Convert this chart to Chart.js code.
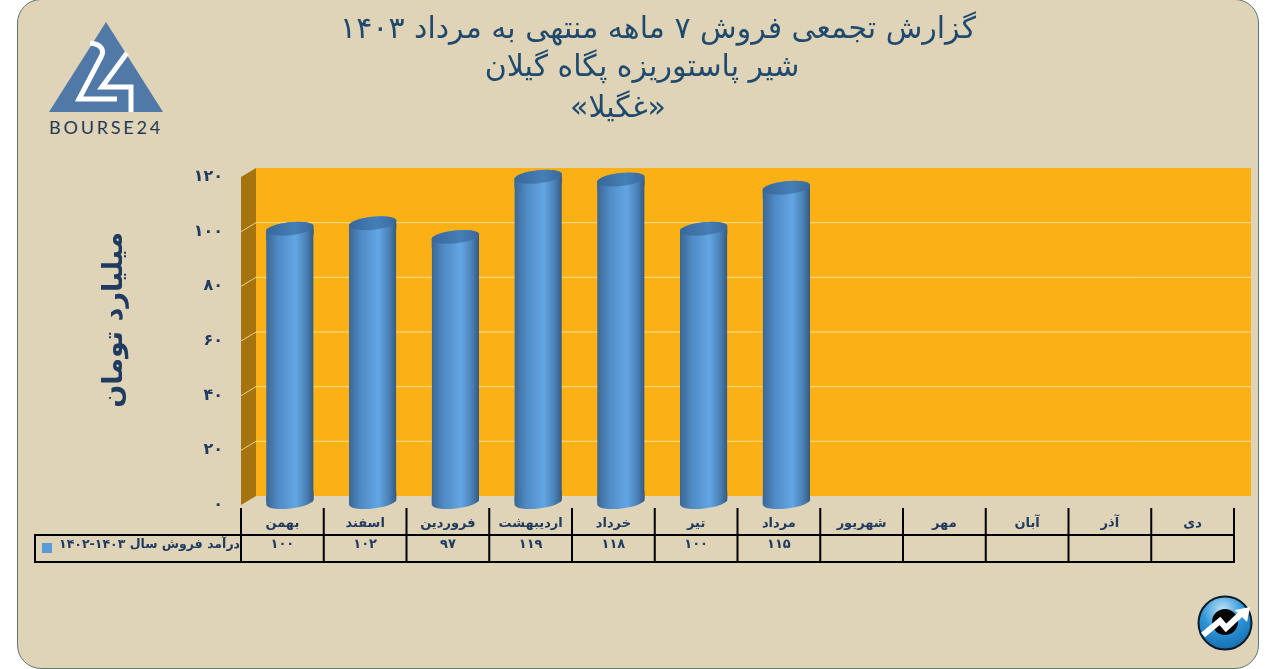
<!DOCTYPE html>
<html lang="fa">
<head>
<meta charset="utf-8">
<title>گزارش فروش غگیلا</title>
<script src="https://cdn.jsdelivr.net/npm/chart.js@4"></script>
<style>
    html, body { margin: 0; padding: 0; background: #fff; overflow: hidden; }
    #panel {
        position: absolute; left: 17px; top: -1px; width: 1240px; height: 668px;
        background: #dfd3b8; border: 1px solid #5d7a72; border-radius: 24px;
    }
    #chart { position: absolute; left: 0; top: 0; }
    svg { position: absolute; left: 0; top: 0; }
</style>
</head>
<body>
<div id="panel"></div>
<svg width="1271" height="669">
    <!-- Logo -->
    <polygon points="106,22 49,112 163,112" fill="#5079a8"/>
    <path d="M90,43 C101,44 105,50 101,57 L79,99 L117,99" fill="none" stroke="#fff" stroke-width="5"/>
    <path d="M127,53 L102,87 L131,87 L131,112" fill="none" stroke="#fff" stroke-width="5"/>
    <text x="106" y="134" text-anchor="middle" font-family="Lato" font-size="18" letter-spacing="2.8" fill="#1f3a55">BOURSE24</text>
    <!-- Badge -->
    <defs>
        <radialGradient id="badge" cx="0.45" cy="0.25" r="0.85">
            <stop offset="0" stop-color="#bfe4f8"/>
            <stop offset="0.45" stop-color="#2f96d8"/>
            <stop offset="1" stop-color="#0f63a8"/>
        </radialGradient>
    </defs>
    <circle cx="1225" cy="623" r="26.5" fill="url(#badge)" stroke="#0b1a26" stroke-width="2"/>
    <circle cx="1225" cy="622" r="13" fill="#050505"/>
    <path d="M1203,635 L1220,621 L1226,628 L1242,613" fill="none" stroke="#fff" stroke-width="6"/>
    <polygon points="1250,607 1247,622 1235,610" fill="#fff"/>
</svg>
<canvas id="chart" width="1271" height="669" dir="rtl"></canvas>

<script>
const months = ['بهمن', 'اسفند', 'فروردین', 'اردیبهشت', 'خرداد', 'تیر', 'مرداد', 'شهریور', 'مهر', 'آبان', 'آذر', 'دی'];
const salesValues = [100, 102, 97, 119, 118, 100, 115, null, null, null, null, null];
const seriesName = 'درآمد فروش سال ۱۴۰۳-۱۴۰۲';
const titleLines = [
    { text: 'گزارش تجمعی فروش ۷ ماهه منتهی به مرداد ۱۴۰۳', x: 658, y: 30, size: 30 },
    { text: 'شیر پاستوریزه پگاه گیلان', x: 642, y: 68, size: 30 },
    { text: '«غگیلا»', x: 618, y: 109, size: 30 }
];
const axisTitle = 'میلیارد تومان';

const navy = '#1f3b60';
const depthX = 15, depthY = 8;       // depth of the fake 3D box
const barLift = 3;                   // bars stand a little behind the front edge
const lidRadius = 6.5;
const tilt = -0.11;
const fontName = '"DejaVu Sans"';

function toPersian(v) {
    return String(v).replace(/\d/g, d => '۰۱۲۳۴۵۶۷۸۹'[d]);
}

function cylinderPath(ctx, cx, top, base, rx) {
    const c = Math.cos(tilt), s = Math.sin(tilt);
    ctx.moveTo(cx - rx * c, top - rx * s);
    ctx.ellipse(cx, top, rx, lidRadius, tilt, Math.PI, Math.PI * 2);
    ctx.lineTo(cx + rx * c, base + rx * s);
    ctx.ellipse(cx, base, rx, lidRadius, tilt, 0, Math.PI);
    ctx.closePath();
}

function bodyGradient(ctx, px, half) {
    const g = ctx.createLinearGradient(px - half, 0, px + half, 0);
    g.addColorStop(0, '#3a6794');
    g.addColorStop(0.25, '#4f8ac4');
    g.addColorStop(0.62, '#63a6e4');
    g.addColorStop(0.85, '#4a80b6');
    g.addColorStop(1, '#33597f');
    return g;
}

// Walls, gridlines and the axis title go behind the bars
const boxPlugin = {
    id: 'box',
    beforeDatasetsDraw(chart) {
        const { ctx, chartArea: a, scales: { y } } = chart;
        ctx.save();
        ctx.fillStyle = '#fbb116';
        ctx.fillRect(a.left + depthX, a.top - depthY - 1, 1251 - a.left - depthX, a.bottom - a.top);
        ctx.fillStyle = '#a6740e';
        ctx.beginPath();
        ctx.moveTo(a.left, a.top);
        ctx.lineTo(a.left + depthX, a.top - depthY - 1);
        ctx.lineTo(a.left + depthX, a.bottom - depthY - 1);
        ctx.lineTo(a.left, a.bottom);
        ctx.closePath();
        ctx.fill();

        ctx.strokeStyle = 'rgba(255, 236, 180, 0.75)';
        ctx.lineWidth = 1;
        y.ticks.forEach(t => {
            if (t.value === 0 || t.value === 120) return;
            const py = y.getPixelForValue(t.value);
            ctx.beginPath();
            ctx.moveTo(a.left, py);
            ctx.lineTo(a.left + depthX, py - depthY - 1);
            ctx.lineTo(1251, py - depthY - 1);
            ctx.stroke();
        });
        ctx.restore();
    },
    // Bars are moved into the box and clipped to a cylinder outline
    beforeDatasetDraw(chart, args) {
        const { ctx } = chart;
        ctx.save();
        ctx.translate(depthX / 2, -barLift);
        ctx.beginPath();
        args.meta.data.forEach((bar, i) => {
            if (salesValues[i] == null) return;
            cylinderPath(ctx, bar.x, bar.y, bar.base, bar.width / 2);
        });
        ctx.clip();
    },
    afterDatasetDraw(chart, args) {
        const { ctx } = chart;
        ctx.restore();
        ctx.save();
        ctx.translate(depthX / 2, -barLift);
        args.meta.data.forEach((bar, i) => {
            if (salesValues[i] == null) return;
            const rx = bar.width / 2;
            // round off both ends of the native bar
            ctx.fillStyle = bodyGradient(ctx, bar.x, rx);
            ctx.beginPath();
            cylinderPath(ctx, bar.x, bar.base - 8, bar.base, rx);
            cylinderPath(ctx, bar.x, bar.y, bar.y + 8, rx);
            ctx.fill();

            const lid = ctx.createLinearGradient(bar.x - rx, 0, bar.x + rx, 0);
            lid.addColorStop(0, '#38679a');
            lid.addColorStop(0.6, '#457fb6');
            lid.addColorStop(1, '#38689a');
            ctx.fillStyle = lid;
            ctx.beginPath();
            ctx.ellipse(bar.x, bar.y, rx, lidRadius, tilt, 0, Math.PI * 2);
            ctx.fill();
        });
        ctx.restore();
    },
    afterDraw(chart) {
        const { ctx, chartArea: a, scales: { x } } = chart;
        ctx.save();
        ctx.direction = 'rtl';
        ctx.textBaseline = 'middle';
        ctx.textAlign = 'center';
        ctx.fillStyle = '#1f4a6e';
        titleLines.forEach(l => {
            ctx.font = `${l.size}px ${fontName}`;
            ctx.fillText(l.text, l.x, l.y);
        });

        // Rotated axis title
        ctx.save();
        ctx.translate(115, 320);
        ctx.rotate(-Math.PI / 2);
        ctx.fillStyle = navy;
        ctx.font = `bold 27px ${fontName}`;
        ctx.fillText(axisTitle, 0, 0);
        ctx.restore();

        // Data table under the axis
        const rowTop = 535, rowBottom = 562, headTop = 508, tableLeft = 35;
        ctx.strokeStyle = '#000';
        ctx.lineWidth = 2;
        ctx.beginPath();
        ctx.moveTo(tableLeft, rowTop); ctx.lineTo(a.right, rowTop);
        ctx.moveTo(tableLeft, rowBottom); ctx.lineTo(a.right, rowBottom);
        ctx.moveTo(tableLeft, rowTop - 1); ctx.lineTo(tableLeft, rowBottom + 1);
        const step = (a.right - a.left) / months.length;
        for (let i = 0; i <= months.length; i++) {
            const px = a.left + step * i;
            ctx.moveTo(px, headTop); ctx.lineTo(px, rowBottom + 1);
        }
        ctx.stroke();

        ctx.fillStyle = navy;
        ctx.font = `bold 13px ${fontName}`;
        salesValues.forEach((v, i) => {
            if (v == null) return;
            ctx.fillText(toPersian(v), x.getPixelForValue(i), 545);
        });
        ctx.textAlign = 'right';
        ctx.font = `bold 12.5px ${fontName}`;
        ctx.fillText(seriesName, 240, 545);
        ctx.fillStyle = '#5a9bd5';
        ctx.fillRect(42, 543, 10, 10);
        ctx.restore();
    }
};

function barFill(context) {
    const chart = context.chart;
    if (!chart.chartArea || context.dataIndex === undefined) return '#5a9bd5';
    const px = chart.scales.x.getPixelForValue(context.dataIndex);
    return bodyGradient(chart.ctx, px, 23.8);
}

new Chart(document.getElementById('chart'), {
    type: 'bar',
    data: {
        labels: months,
        datasets: [{
            label: seriesName,
            data: salesValues,
            backgroundColor: barFill,
            borderWidth: 0,
            categoryPercentage: 0.575,
            barPercentage: 1
        }]
    },
    options: {
        responsive: false,
        animation: false,
        layout: { padding: { left: 0, right: 37, top: 177, bottom: 134 } },
        plugins: { legend: { display: false }, title: { display: false }, tooltip: { enabled: false } },
        scales: {
            x: {
                grid: { display: false },
                border: { display: false },
                afterFit(s) { s.height = 30; },
                ticks: {
                    color: navy,
                    font: { family: fontName, size: 13, weight: 'bold' },
                    maxRotation: 0,
                    autoSkip: false,
                    padding: 3
                }
            },
            y: {
                min: 0,
                max: 120,
                grid: { display: false },
                border: { display: false },
                afterFit(s) { s.width = 241; },
                ticks: {
                    stepSize: 20,
                    color: navy,
                    padding: 10,
                    font: { family: fontName, size: 16, weight: 'bold' },
                    callback: v => toPersian(v)
                }
            }
        }
    },
    plugins: [boxPlugin]
});
</script>
</body>
</html>
